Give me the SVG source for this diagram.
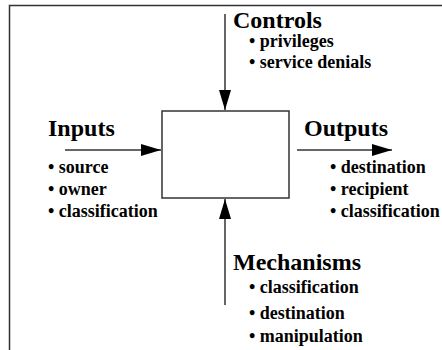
<svg xmlns="http://www.w3.org/2000/svg" width="442" height="350" viewBox="0 0 442 350">
<defs>
<style>
.h{font-family:"Liberation Serif","Times New Roman",serif;font-weight:bold;font-size:24px;fill:#000}
.b{font-family:"Liberation Serif","Times New Roman",serif;font-weight:bold;font-size:18px;fill:#000}
.ln{stroke:#333;stroke-width:1.5;fill:none}
</style>
<marker id="ah" viewBox="0 0 20 12" refX="20" refY="6" markerWidth="20" markerHeight="12" markerUnits="userSpaceOnUse" orient="auto">
<path d="M0,0 L20,6 L0,12 Z" fill="#000"/>
</marker>
</defs>
<rect width="442" height="350" fill="#fff"/>
<path class="ln" d="M9.5,350 V5.5 H442" stroke="#000"/>
<g id="process">
<rect x="162" y="111" width="127" height="87" fill="#fff" stroke="#333" stroke-width="1.5"/>
</g>
<g id="connectors">
<line class="ln" x1="225" y1="14" x2="225" y2="110" marker-end="url(#ah)"/>
<line class="ln" x1="65" y1="150" x2="161" y2="150" marker-end="url(#ah)"/>
<line class="ln" x1="297" y1="150" x2="392" y2="150" marker-end="url(#ah)"/>
<line class="ln" x1="225" y1="305" x2="225" y2="199" marker-end="url(#ah)"/>
</g>
<g id="controls">
<text class="h" x="233" y="28">Controls</text>
<text class="b" x="249" y="47">• privileges</text>
<text class="b" x="249" y="68">• service denials</text>
</g>
<g id="inputs">
<text class="h" x="48" y="136">Inputs</text>
<text class="b" x="48" y="173">• source</text>
<text class="b" x="48" y="195">• owner</text>
<text class="b" x="48" y="217">• classification</text>
</g>
<g id="outputs">
<text class="h" x="304" y="136">Outputs</text>
<text class="b" x="330" y="173">• destination</text>
<text class="b" x="330" y="195">• recipient</text>
<text class="b" x="330" y="217">• classification</text>
</g>
<g id="mechanisms">
<text class="h" x="233" y="270">Mechanisms</text>
<text class="b" x="249" y="293">• classification</text>
<text class="b" x="249" y="319">• destination</text>
<text class="b" x="249" y="342">• manipulation</text>
</g>
</svg>
